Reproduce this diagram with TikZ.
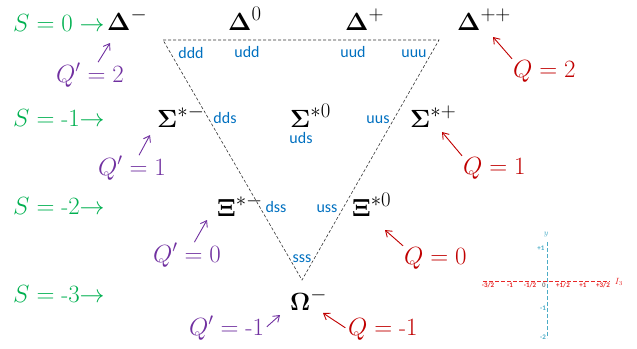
\documentclass[tikz,border=0pt]{standalone}
\usepackage{amsmath,amssymb}
\usepackage[no-math]{fontspec}
\usepackage{xcolor}
\usepackage{tikz}
\usetikzlibrary{arrows.meta,positioning}
\newfontfamily\quarkfont{Carlito}
\definecolor{sgreen}{RGB}{0,176,80}
\definecolor{qpurple}{RGB}{112,48,160}
\definecolor{qred}{RGB}{192,0,0}
\definecolor{qblue}{RGB}{0,112,192}
\definecolor{axteal}{RGB}{75,172,198}
\definecolor{axred}{RGB}{232,40,40}
\tikzstyle{part}=[anchor=base west, inner sep=0pt, font=\fontsize{28}{30}\selectfont]
\tikzstyle{strange}=[anchor=base west, inner sep=0pt, text=sgreen, font=\fontsize{23}{25}\selectfont]
\tikzstyle{quark}=[anchor=base, inner sep=0pt, text=qblue, font=\quarkfont\fontsize{16}{17}\selectfont]
\tikzstyle{parr}=[-{Straight Barb[length=2mm,width=2.8mm]}, line width=0.9pt, draw=qpurple]
\tikzstyle{rarr}=[-{Straight Barb[length=2mm,width=2.8mm]}, line width=0.9pt, draw=qred]

\begin{document}
\begin{tikzpicture}[x=1pt,y=-1pt,
  qp/.style={anchor=base west,inner sep=1pt,text=qpurple,font=\fontsize{24}{26}\selectfont},
  qq/.style={anchor=base west,inner sep=1pt,text=qred,font=\fontsize{23}{25}\selectfont},
  tri/.style={draw=black!80,dashed,dash pattern=on 3pt off 2pt,line width=0.6pt},
  tick/.style={inner sep=0pt,font=\quarkfont\bfseries\fontsize{7}{8}\selectfont}]
\useasboundingbox (0,0) rectangle (637,348);
% weight diagram
\coordinate (tl) at (163,40); \coordinate (tr) at (439,40); \coordinate (bt) at (302,280);
\draw[tri] (tl) -- (tr) -- (bt) -- cycle;
\node[part] (dm) at (107,30) {$\mathbf{\Delta}^{-}$};
\node[part] (d0) at (228,30) {$\mathbf{\Delta}^{0}$};
\node[part] (dp) at (345,30) {$\mathbf{\Delta}^{+}$};
\node[part] (dpp) at (457,30) {$\mathbf{\Delta}^{++}$};
\node[part] (sm) at (157,127) {$\mathbf{\Sigma}^{*-}$};
\node[part] (s0) at (290,127) {$\mathbf{\Sigma}^{*0}$};
\node[part] (sp) at (410,127) {$\mathbf{\Sigma}^{*+}$};
\node[part] (xm) at (217,216) {$\mathbf{\Xi}^{*-}$};
\node[part] (x0) at (352,216) {$\mathbf{\Xi}^{*0}$};
\node[part] (om) at (290,310) {$\mathbf{\Omega}^{-}$};
% quark content
\node[quark] (ddd) at (191,58) {ddd};
\node[quark] (udd) at (247,57) {udd};
\node[quark] (uud) at (353,57) {uud};
\node[quark] (uuu) at (414,57) {uuu};
\node[quark] (dds) at (225,123) {dds};
\node[quark] (uds) at (301,143) {uds};
\node[quark] (uus) at (378,123) {uus};
\node[quark] (dss) at (276,212) {dss};
\node[quark] (uss) at (327,212) {uss};
\node[quark] (sss) at (302,262) {sss};
% strangeness rows
\node[strange] (sz0) at (13,31) {$S=0\rightarrow$};
\node[strange] (sz1) at (13,126) {$S=\mbox{-}1{\rightarrow}$};
\node[strange] (sz2) at (13,214) {$S=\mbox{-}2{\rightarrow}$};
\node[strange] (sz3) at (13,302) {$S=\mbox{-}3{\rightarrow}$};
% charges
\node[qp] (qp2) at (55,82) {$Q'=2$};
\node[qp] (qp1) at (97,175) {$Q'=1$};
\node[qp] (qp0) at (152,262) {$Q'=0$};
\node[qp] (qpm1) at (188,335) {$Q'=\mbox{-}1$};
\node[qq] (q2) at (512,77) {$Q=2$};
\node[qq] (q1) at (462,174) {$Q=1$};
\node[qq] (q0) at (403,264) {$Q=0$};
\node[qq] (qm1) at (347,335) {$Q=\mbox{-}1$};
\coordinate (qp2t) at (110,43); \coordinate (qp1t) at (150,135);
\coordinate (qp0t) at (207,220); \coordinate (qpm1t) at (280,315);
\coordinate (q2t) at (493,37); \coordinate (q1t) at (442,132);
\coordinate (q0t) at (385,230); \coordinate (qm1t) at (323,313);
\draw[parr] (qp2) -- (qp2t); \draw[parr] (qp1) -- (qp1t);
\draw[parr] (qp0) -- (qp0t); \draw[parr,shorten <=2pt] (qpm1.east) -- (qpm1t);
\draw[rarr] (q2.north west) -- (q2t); \draw[rarr] (q1.north west) -- (q1t);
\draw[rarr] (q0.north west) -- (q0t); \draw[rarr,shorten <=2pt] (qm1.west) -- (qm1t);
% small axes
\coordinate (ixl) at (483,281); \coordinate (ixr) at (610,281);
\coordinate (iyt) at (547,242); \coordinate (iyb) at (547,338);
\draw[axred,dashed,dash pattern=on 4pt off 2pt,line width=0.6pt] (ixl) -- (ixr);
\draw[axteal,dashed,dash pattern=on 4pt off 2pt,line width=0.6pt] (iyt) -- (iyb);
\foreach \x/\t in {488/{-3/2},510/-1,530/{-1/2},563/{+1/2},583/+1,603/{+3/2}}
  \node[tick,text=axred] (i\x) at (\x,285) {\t};
\node[tick,text=gray] (io) at (544,285) {0};
\node[text=axred,inner sep=0pt,font=\fontsize{9}{10}\selectfont] (ilab) at (619,282) {$I_3$};
\node[text=axteal,inner sep=0pt,font=\fontsize{8}{9}\selectfont] (ylab) at (546,235) {$y$};
\node[tick,text=axteal] (yp1) at (541,248) {+1};
\node[tick,text=axteal] (ym1) at (543,308) {-1};
\node[tick,text=axteal] (ym2) at (543,337) {-2};
\end{tikzpicture}
\end{document}
